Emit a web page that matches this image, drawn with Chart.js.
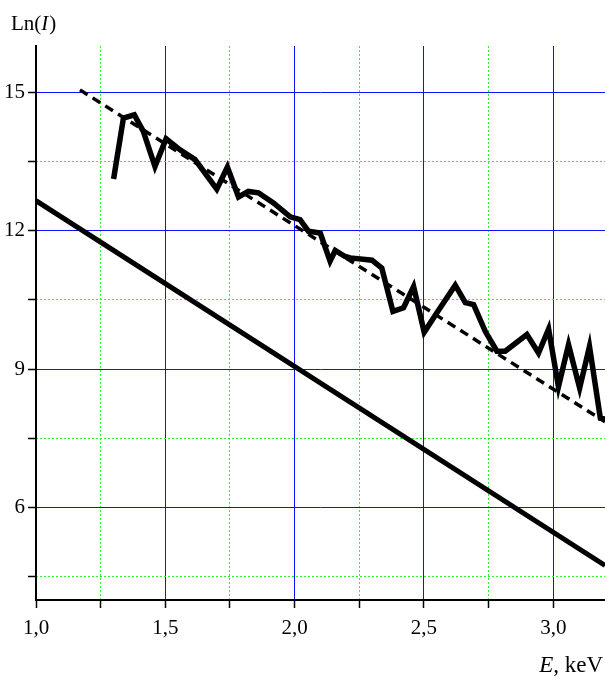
<!DOCTYPE html>
<html lang="en">
<head>
<meta charset="UTF-8">
<title>Ln(I) vs E</title>
<script src="https://cdn.jsdelivr.net/npm/chart.js@4/dist/chart.umd.min.js"></script>
<style>
  body { margin: 0; background: #fff; }
  .wrap { position: relative; width: 605px; height: 680px; }
</style>
</head>
<body>
<div class="wrap"><canvas id="chart" width="605" height="680"></canvas></div>
<script>
const measE = [1.30, 1.338, 1.38, 1.415, 1.46, 1.503, 1.557, 1.615, 1.699, 1.74,
               1.783, 1.821, 1.86, 1.918, 1.983, 2.021, 2.053, 2.099, 2.137, 2.157,
               2.195, 2.215, 2.299, 2.337, 2.38, 2.421, 2.46, 2.501, 2.55, 2.621,
               2.66, 2.692, 2.737, 2.782, 2.814, 2.898, 2.943, 2.982, 3.02, 3.059,
               3.102, 3.14, 3.182, 3.201];
const measLnI = [13.12, 14.44, 14.51, 14.15, 13.39, 13.99, 13.75, 13.54, 12.90, 13.38,
                 12.73, 12.85, 12.82, 12.60, 12.30, 12.24, 11.99, 11.95, 11.34, 11.57,
                 11.44, 11.41, 11.36, 11.19, 10.25, 10.33, 10.79, 9.80, 10.22, 10.82,
                 10.44, 10.40, 9.82, 9.39, 9.39, 9.75, 9.35, 9.87, 8.62, 9.53,
                 8.59, 9.49, 7.94, 7.92];

// fit (dashed) and reference (solid) lines
const fitE = [1.17, 3.2];
const fitLnI = [15.05, 7.86];
const refE = [1.0, 3.2];
const refLnI = [12.65, 4.75];

// axis ticks
const xTicks = [1.0, 1.25, 1.5, 1.75, 2.0, 2.25, 2.5, 2.75, 3.0];
const xMajor = [1.0, 1.5, 2.0, 2.5, 3.0];
const xMinor = [1.25, 1.75, 2.25, 2.75];
const yTicks = [4.5, 6, 7.5, 9, 10.5, 12, 13.5, 15];
const yMajor = [6, 9, 12, 15];
const yMinor = [4.5, 7.5, 10.5, 13.5];

const X_MIN = 1.0, X_MAX = 3.2, Y_MIN = 4, Y_MAX = 16;
const FONT = '"Liberation Serif", "Times New Roman", serif';
const BLUE = '#1010ff';
const GREEN = '#33ee33';
const pts = (xs, ys) => xs.map((x, i) => ({ x: x, y: ys[i] }));
const isMajor = (list, v) => list.some(m => Math.abs(m - v) < 1e-6);
const setTicks = list => s => { s.ticks = list.map(v => ({ value: v })); };

// hidden helper scale that only paints grid lines
function gridScale(axis, position, min, max, list, color, dash) {
    return {
        type: 'linear', axis: axis, position: position, min: min, max: max,
        afterBuildTicks: setTicks(list),
        afterFit: s => { if (axis === 'x') s.height = 0; else s.width = 0; },
        grid: { color: color, lineWidth: 1, drawTicks: false },
        border: { display: false, dash: dash },
        ticks: { display: false, autoSkip: false }
    };
}

// axis titles drawn as canvas text
const titles = {
    id: 'titles',
    afterDraw(chart) {
        const c = chart.ctx;
        c.save();
        c.fillStyle = '#000';
        c.textBaseline = 'alphabetic';
        // Ln(I)
        let x = 11;
        c.font = '21px ' + FONT;
        c.fillText('Ln(', x, 30);
        x += c.measureText('Ln(').width;
        c.font = 'italic 21px ' + FONT;
        c.fillText('I', x, 30);
        x += c.measureText('I').width + 1;
        c.font = '21px ' + FONT;
        c.fillText(')', x, 30);
        // E, keV
        c.font = 'italic 23px ' + FONT;
        const wE = c.measureText('E').width;
        c.font = '23px ' + FONT;
        const wRest = c.measureText(', keV').width;
        let xe = 603 - wE - wRest;
        c.font = 'italic 23px ' + FONT;
        c.fillText('E', xe, 672);
        c.font = '23px ' + FONT;
        c.fillText(', keV', xe + wE, 672);
        c.restore();
    }
};

new Chart(document.getElementById('chart').getContext('2d'), {
    type: 'line',
    data: {
        datasets: [
            {
                data: pts(measE, measLnI),
                borderColor: '#000',
                borderWidth: 5.5,
                pointRadius: 0,
                tension: 0
            },
            {
                data: pts(fitE, fitLnI),
                borderColor: '#000',
                borderWidth: 3.5,
                borderDash: [9, 6],
                pointRadius: 0
            },
            {
                data: pts(refE, refLnI),
                borderColor: '#000',
                borderWidth: 5,
                pointRadius: 0
            }
        ]
    },
    options: {
        responsive: false,
        animation: false,
        devicePixelRatio: 1,
        layout: { padding: { top: 46, left: 0, right: 0, bottom: 0 } },
        plugins: {
            legend: { display: false },
            tooltip: { enabled: false }
        },
        scales: {
            xMajorGrid: gridScale('x', 'bottom', X_MIN, X_MAX, xMajor, BLUE, []),
            xMinorGrid: gridScale('x', 'bottom', X_MIN, X_MAX, xMinor, GREEN, [2, 2]),
            yMajorGrid: gridScale('y', 'left', Y_MIN, Y_MAX, yMajor, BLUE, []),
            yMinorGrid: gridScale('y', 'left', Y_MIN, Y_MAX, yMinor, GREEN, [2, 2]),
            x: {
                type: 'linear',
                min: X_MIN,
                max: X_MAX,
                weight: 1,
                afterBuildTicks: setTicks(xTicks),
                afterFit: s => { s.height = 80; },
                grid: {
                    drawOnChartArea: false,
                    tickColor: '#000',
                    tickLength: 8,
                    tickWidth: 1.5
                },
                border: { color: '#000', width: 2 },
                ticks: {
                    autoSkip: false,
                    maxRotation: 0,
                    padding: 8,
                    color: '#000',
                    font: { family: FONT, size: 21 },
                    callback: v => isMajor(xMajor, v) ? v.toFixed(1).replace('.', ',') : ''
                }
            },
            y: {
                type: 'linear',
                min: Y_MIN,
                max: Y_MAX,
                weight: 1,
                afterBuildTicks: setTicks(yTicks),
                afterFit: s => { s.width = 36; },
                grid: {
                    drawOnChartArea: false,
                    tickColor: '#000',
                    tickLength: 8,
                    tickWidth: 1.5
                },
                border: { color: '#000', width: 2 },
                ticks: {
                    autoSkip: false,
                    padding: 3,
                    color: '#000',
                    font: { family: FONT, size: 21 },
                    callback: v => isMajor(yMajor, v) ? String(v) : ''
                }
            }
        }
    },
    plugins: [titles]
});
</script>
</body>
</html>
